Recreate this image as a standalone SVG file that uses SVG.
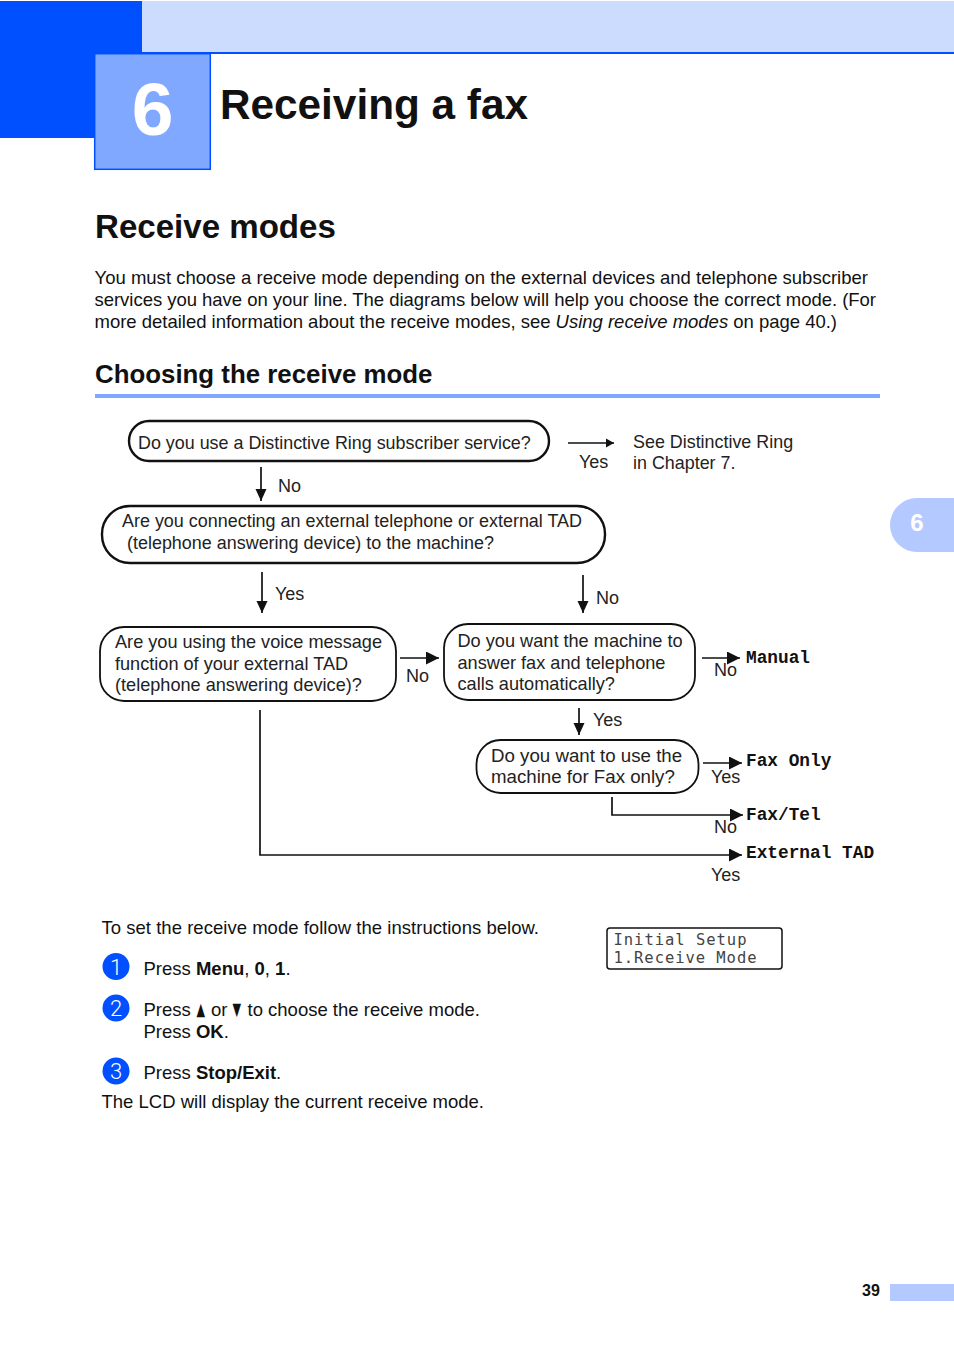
<svg xmlns="http://www.w3.org/2000/svg" width="954" height="1348" viewBox="0 0 954 1348">
<style>
text{font-family:"Liberation Sans",Arial,sans-serif;fill:#111}
.b{font-size:18.5px}
.f{font-size:18px;fill:#222}
.m{font-family:"Liberation Mono","Courier New",monospace;font-weight:bold;font-size:17.8px}
.l{font-family:"DejaVu Sans Mono","Liberation Mono",monospace;font-size:15.5px;fill:#444}
.box{fill:#fff;stroke:#111}
.t{stroke-width:2.4}
.s{stroke-width:1.8}
.con{fill:none;stroke:#111;stroke-width:1.7}
.n{font-family:Roboto,"Liberation Sans",sans-serif;font-weight:300;fill:#fff;font-size:22px;text-anchor:middle}
.g{font-family:"DejaVu Sans",sans-serif;font-size:13px}
</style>
<defs>
<marker id="a" markerUnits="userSpaceOnUse" markerWidth="14" markerHeight="14" refX="13" refY="6.500" orient="auto"><path d="M0 0L13 6.500L0 13z" fill="#111"/></marker>
<marker id="c" markerUnits="userSpaceOnUse" markerWidth="14" markerHeight="14" refX="12" refY="6" orient="auto"><path d="M0 0.500L12 6L0 11.500z" fill="#111"/></marker>
<marker id="d" markerUnits="userSpaceOnUse" markerWidth="10" markerHeight="11" refX="8" refY="5" orient="auto"><path d="M0 0.500L8 5L0 9.500z" fill="#111"/></marker>
</defs>
<rect width="954" height="1348" fill="#fff"/>
<rect x="142" y="1" width="812" height="51" fill="#ccdcff"/>
<rect x="0" y="1" width="142" height="137" fill="#0050ff"/>
<rect x="142" y="52" width="812" height="2" fill="#0050ff"/>
<rect x="94.700" y="53.700" width="115.600" height="115.600" fill="#80a8ff" stroke="#0050ff" stroke-width="1.500"/>
<text x="152.500" y="135" font-size="75" font-weight="bold" text-anchor="middle" style="fill:#fff">6</text>
<text x="220" y="118.500" font-size="42.300" font-weight="bold">Receiving a fax</text>
<text x="95" y="238" font-size="33.100" font-weight="bold">Receive modes</text>
<text class="b" x="94.500" y="284" textLength="773.500">You must choose a receive mode depending on the external devices and telephone subscriber</text>
<text class="b" x="94.500" y="306" textLength="781.500">services you have on your line. The diagrams below will help you choose the correct mode. (For</text>
<text class="b" x="94.500" y="328" textLength="742.500">more detailed information about the receive modes, see <tspan font-style="italic">Using receive modes</tspan> on page 40.)</text>
<text x="95" y="383" font-size="25.850" font-weight="bold">Choosing the receive mode</text>
<rect x="95" y="394" width="785" height="4" fill="#80a8ff"/>
<g id="connectors">
<path class="con" marker-end="url(#d)" d="M568 443H614"/>
<path class="con" marker-end="url(#c)" d="M261 467V501"/>
<path class="con" marker-end="url(#c)" d="M262 572V613"/>
<path class="con" marker-end="url(#c)" d="M583 575V613"/>
<path class="con" marker-end="url(#a)" d="M400 658H439"/>
<path class="con" marker-end="url(#a)" d="M702 658H740"/>
<path class="con" marker-end="url(#c)" d="M579 708V735"/>
<path class="con" marker-end="url(#a)" d="M703 763H742"/>
<path class="con" marker-end="url(#a)" d="M612 797V815H743"/>
<path class="con" marker-end="url(#a)" d="M260 710V855H742"/>
</g>
<g id="q1"><rect class="box t" x="129" y="421" width="420" height="40" rx="20"/><text class="f" x="138" y="449" style="font-size:17.900px">Do you use a Distinctive Ring subscriber service?</text></g>
<g id="q2"><rect class="box t" x="102" y="506" width="503" height="57" rx="28"/><text class="f" x="122" y="527" style="font-size:17.960px">Are you connecting an external telephone or external TAD</text><text class="f" x="127" y="549" style="font-size:17.960px">(telephone answering device) to the machine?</text></g>
<g id="q3"><rect class="box s" x="100" y="627" width="296" height="74" rx="24"/><text class="f" x="115" y="648" style="font-size:18.140px">Are you using the voice message</text><text class="f" x="115" y="670" style="font-size:18.140px">function of your external TAD</text><text class="f" x="115" y="691" style="font-size:18.140px">(telephone answering device)?</text></g>
<g id="q4"><rect class="box s" x="444" y="624" width="251" height="76" rx="24"/><text class="f" x="457.500" y="647" style="font-size:18.160px">Do you want the machine to</text><text class="f" x="457.500" y="669" style="font-size:18.160px">answer fax and telephone</text><text class="f" x="457.500" y="690" style="font-size:18.160px">calls automatically?</text></g>
<g id="q5"><rect class="box s" x="476.500" y="740" width="222" height="53" rx="24"/><text class="f" x="491" y="762" style="font-size:18.700px">Do you want to use the</text><text class="f" x="491" y="783" style="font-size:18.700px">machine for Fax only?</text></g>
<g id="see"><text class="f" x="633" y="448" style="font-size:17.900px">See Distinctive Ring</text><text class="f" x="633" y="469" style="font-size:17.900px">in Chapter 7.</text></g>
<g id="labels">
<text class="f" x="579" y="468">Yes</text>
<text class="f" x="278" y="492">No</text>
<text class="f" x="275" y="600">Yes</text>
<text class="f" x="596" y="604">No</text>
<text class="f" x="406" y="682">No</text>
<text class="f" x="714" y="676">No</text>
<text class="f" x="593" y="726">Yes</text>
<text class="f" x="711" y="783">Yes</text>
<text class="f" x="714" y="833">No</text>
<text class="f" x="711" y="881">Yes</text>
</g>
<g id="manual"><text class="m" x="746" y="663">Manual</text></g>
<g id="faxonly"><text class="m" x="746" y="766">Fax Only</text></g>
<g id="faxtel"><text class="m" x="746" y="819.500">Fax/Tel</text></g>
<g id="tad"><text class="m" x="746" y="858">External TAD</text></g>
<text class="b" x="101.500" y="934" textLength="437.500">To set the receive mode follow the instructions below.</text>
<circle cx="116" cy="966.500" r="13.500" fill="#0050ff"/><text class="n" x="116" y="974.500">1</text>
<text class="b" x="143.500" y="975">Press <tspan font-weight="bold">Menu</tspan>, <tspan font-weight="bold">0</tspan>, <tspan font-weight="bold">1</tspan>.</text>
<circle cx="116" cy="1008" r="13.500" fill="#0050ff"/><text class="n" x="116" y="1016">2</text>
<text class="b" x="143.500" y="1016">Press</text><text class="g" transform="translate(196.500 1014.500) scale(.85 1.35)">▲</text><text class="b" x="211" y="1016">or</text><text class="g" transform="translate(232.500 1014.500) scale(.85 1.35)">▼</text><text class="b" x="247.500" y="1016">to choose the receive mode.</text>
<text class="b" x="143.500" y="1038">Press <tspan font-weight="bold">OK</tspan>.</text>
<circle cx="116" cy="1071" r="13.500" fill="#0050ff"/><text class="n" x="116" y="1079">3</text>
<text class="b" x="143.500" y="1079">Press <tspan font-weight="bold">Stop/Exit</tspan>.</text>
<text class="b" x="101.500" y="1108">The LCD will display the current receive mode.</text>
<g id="lcd"><rect x="607" y="928" width="175" height="41" rx="3" fill="#fff" stroke="#111" stroke-width="1.500"/><text class="l" x="613.500" y="945" textLength="133">Initial Setup</text><text class="l" x="613.500" y="963" textLength="143">1.Receive Mode</text></g>
<path d="M954 498H917a27 27 0 0 0 0 54H954z" fill="#b3c9ff"/>
<text x="917" y="531" font-size="24" font-weight="bold" text-anchor="middle" style="fill:#fff">6</text>
<text x="871" y="1296" font-size="16" font-weight="bold" text-anchor="middle">39</text>
<rect x="890" y="1284" width="64" height="17" fill="#b3c9ff"/>
</svg>
